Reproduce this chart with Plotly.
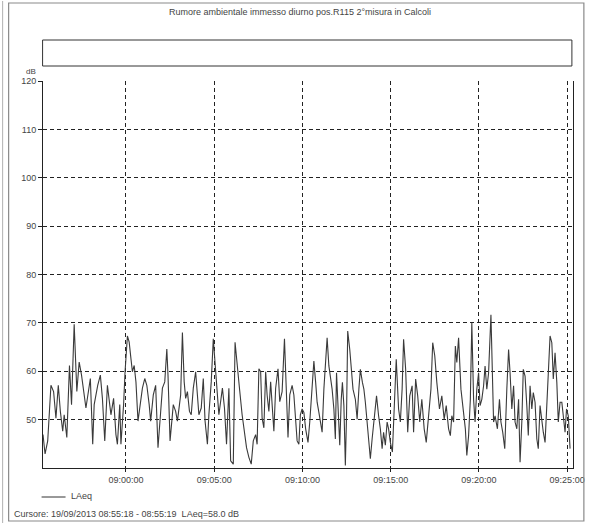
import plotly.graph_objects as go
import pandas as pd

# ---- data ----
start_time = "2013-09-19 08:55:18"
end_offset_s = 1802

# elapsed seconds from start, LAeq values (dB)
seconds = [
    0, 7, 16, 27, 36, 44, 52, 59, 67, 72, 81, 90, 97, 106, 115, 123, 131, 140, 146, 161,
    169, 174, 186, 195, 202, 210, 219, 231, 240, 248, 253, 261, 265, 274, 279, 287, 293, 299, 304, 310,
    316, 323, 330, 338, 346, 353, 361, 366, 375, 383, 391, 398, 406, 414, 421, 425, 432, 438, 443, 451,
    457, 464, 468, 474, 480, 485, 491, 498, 504, 511, 519, 525, 530, 538, 545, 551, 559, 564, 572, 579,
    587, 598, 610, 617, 624, 632, 638, 647, 653, 661, 668, 677, 685, 692, 700, 708, 715, 723, 728, 734,
    740, 745, 751, 757, 762, 768, 774, 779, 785, 791, 799, 805, 813, 821, 828, 833, 839, 847, 853, 858,
    864, 870, 875, 881, 887, 893, 901, 907, 915, 921, 927, 932, 938, 944, 949, 955, 961, 966, 972, 977,
    983, 989, 994, 998, 1002, 1009, 1014, 1018, 1023, 1028, 1032, 1036, 1043, 1048, 1054, 1062, 1068, 1074, 1079, 1086,
    1091, 1096, 1102, 1108, 1113, 1119, 1127, 1134, 1141, 1147, 1153, 1158, 1164, 1170, 1175, 1181, 1188, 1195, 1201, 1209,
    1215, 1221, 1226, 1233, 1240, 1247, 1255, 1260, 1267, 1274, 1281, 1288, 1296, 1303, 1311, 1319, 1325, 1332, 1339, 1348,
    1356, 1364, 1371, 1379, 1385, 1390, 1396, 1402, 1407, 1413, 1421, 1428, 1436, 1441, 1447, 1453, 1458, 1464, 1469, 1475,
    1481, 1486, 1492, 1498, 1503, 1509, 1515, 1523, 1527, 1532, 1537, 1545, 1552, 1557, 1563, 1570, 1577, 1583, 1588, 1594,
    1600, 1605, 1611, 1617, 1622, 1628, 1633, 1639, 1645, 1650, 1656, 1662, 1667, 1673, 1679, 1684, 1690, 1696, 1701, 1707,
    1713, 1718, 1724, 1730, 1735, 1741, 1747, 1752, 1758, 1764, 1769, 1775, 1780, 1786, 1792,
]
laeq = [
    46.9, 42.9, 45.6, 57.1, 55.8, 50.3, 57.1, 51.7, 47.6, 51.0, 46.3, 61.2, 53.1, 69.7, 55.8, 61.9, 59.2, 55.1, 52.4, 58.5,
    44.9, 53.1, 57.1, 59.2, 54.4, 45.6, 57.1, 51.0, 54.4, 46.9, 44.9, 53.1, 44.9, 53.1, 59.9, 67.3, 66.0, 62.6, 59.9, 61.2,
    57.8, 49.7, 53.1, 56.5, 58.5, 57.1, 53.1, 49.7, 55.1, 57.1, 44.2, 49.7, 56.5, 57.8, 64.6, 59.2, 45.6, 49.7, 53.1, 51.7,
    49.7, 53.1, 55.1, 68.0, 57.8, 54.4, 55.8, 51.7, 51.0, 56.5, 59.9, 55.1, 51.0, 52.4, 58.5, 49.7, 44.9, 51.0, 57.8, 66.7,
    59.2, 51.0, 56.5, 52.4, 44.9, 56.5, 41.5, 40.8, 66.0, 59.9, 56.5, 51.0, 46.9, 44.2, 42.2, 40.8, 45.6, 46.9, 44.9, 60.5,
    59.9, 50.3, 48.3, 59.9, 55.1, 51.7, 57.8, 53.1, 47.6, 56.5, 60.5, 53.7, 55.8, 66.7, 56.5, 46.3, 55.1, 57.1, 55.1, 49.7,
    45.6, 44.9, 51.0, 52.2, 51.5, 48.1, 45.3, 49.5, 56.3, 62.1, 57.7, 53.6, 51.5, 49.5, 47.4, 56.3, 61.8, 66.9, 61.1, 59.0,
    56.3, 52.2, 46.0, 59.7, 52.9, 44.7, 54.2, 57.7, 52.9, 40.5, 50.8, 68.3, 64.5, 60.4, 56.3, 54.2, 50.1, 56.3, 60.4, 57.7,
    56.3, 53.6, 49.5, 44.7, 41.9, 46.0, 50.8, 54.9, 50.8, 48.1, 44.0, 47.4, 44.7, 49.5, 48.1, 45.3, 43.3, 54.9, 62.5, 52.2,
    49.5, 56.3, 66.6, 60.4, 47.4, 54.9, 57.0, 47.4, 58.4, 54.9, 49.5, 54.2, 48.1, 45.3, 50.8, 56.3, 65.9, 63.2, 57.7, 52.2,
    54.9, 50.1, 52.9, 48.1, 46.7, 50.8, 49.5, 65.2, 61.8, 66.9, 56.3, 52.9, 48.1, 42.6, 46.7, 54.2, 70.0, 54.2, 49.5, 56.3,
    59.7, 52.9, 54.2, 57.0, 61.1, 56.3, 59.7, 71.7, 59.7, 49.5, 50.8, 48.1, 54.2, 49.5, 47.4, 44.0, 56.3, 64.5, 59.7, 52.2,
    57.0, 49.5, 48.1, 54.2, 41.2, 49.5, 60.4, 59.0, 52.9, 46.7, 57.0, 52.2, 55.6, 53.6, 46.0, 44.0, 52.9, 49.5, 47.4, 45.3,
    54.2, 60.4, 67.3, 65.9, 58.4, 63.8, 57.7, 49.5, 53.6, 53.6, 50.8, 47.4, 52.2, 50.8, 44.0,
]
x_tick_vals = ["2013-09-19 09:00:00", "2013-09-19 09:05:00", "2013-09-19 09:10:00",
               "2013-09-19 09:15:00", "2013-09-19 09:20:00", "2013-09-19 09:25:00"]
x_tick_text = ["09:00:00", "09:05:00", "09:10:00", "09:15:00", "09:20:00", "09:25:00"]
y_tick_vals = [50, 60, 70, 80, 90, 100, 110, 120]

title_text = "Rumore ambientale immesso diurno pos.R115 2°misura in Calcoli"
cursor_text = "Cursore: 19/09/2013 08:55:18 - 08:55:19  LAeq=58.0 dB"
series_name = "LAeq"

t0 = pd.Timestamp(start_time)
times = [t0 + pd.Timedelta(seconds=s) for s in seconds]
t_end = t0 + pd.Timedelta(seconds=end_offset_s)

FONT = "Liberation Sans, Arial, sans-serif"
# horizontal compensation for the observed render squeeze
SX = 589 / 581
W, H = 597, 525
L = round(42 * SX)
R = W - round(573 * SX)
T, B = 81, 57
pw, ph = W - L - R, H - T - B


def px(xp):
    return (xp * SX - L) / pw


def py(yp):
    return (H - B - yp) / ph


fig = go.Figure()
fig.add_trace(go.Scatter(
    x=times, y=laeq, mode="lines", name=series_name,
    line=dict(color="#3a3a3a", width=1.1),
    showlegend=False,
))

fig.update_layout(
    width=W, height=H,
    margin=dict(l=L, r=R, t=T, b=B),
    paper_bgcolor="white", plot_bgcolor="white",
    font=dict(family=FONT, size=9, color="#333333"),
    xaxis=dict(
        range=[t0, t_end], tickvals=x_tick_vals, ticktext=x_tick_text,
        showgrid=True, gridcolor="#222222", gridwidth=1, griddash="4px,3px",
        showline=True, linecolor="#222222", linewidth=1,
        ticks="outside", ticklen=3, tickcolor="#222222",
        tickfont=dict(size=9, color="#444444"), zeroline=False,
    ),
    yaxis=dict(
        range=[40, 120], tickvals=y_tick_vals,
        showgrid=True, gridcolor="#222222", gridwidth=1, griddash="4px,3px",
        showline=True, linecolor="#222222", linewidth=1, mirror=True,
        ticks="outside", ticklen=4, tickcolor="#222222",
        tickfont=dict(size=9, color="#444444"), zeroline=False,
    ),
)

shapes = [
    # outer frame
    dict(type="rect", xref="paper", yref="paper", x0=px(8), x1=px(584), y0=py(521), y1=py(3),
         line=dict(color="#8a8a8a", width=1.2)),
    dict(type="line", xref="paper", yref="paper", x0=px(2), x1=px(2), y0=py(523), y1=py(1),
         line=dict(color="#b0b0b0", width=1)),
    # empty legend box
    dict(type="rect", xref="paper", yref="paper", x0=px(42), x1=px(572), y0=py(66), y1=py(40),
         line=dict(color="#333333", width=1)),
    # legend line sample
    dict(type="line", xref="paper", yref="paper", x0=px(41), x1=px(65), y0=py(497), y1=py(497),
         line=dict(color="#333333", width=1)),
]
fig.update_layout(shapes=shapes)

annotations = [
    dict(text=title_text, xref="paper", yref="paper", x=px(300), y=py(12), showarrow=False,
         font=dict(size=9, color="#444444"), xanchor="center", yanchor="middle"),
    dict(text="dB", xref="paper", yref="paper", x=px(37), y=py(72), showarrow=False,
         font=dict(size=8, color="#444444"), xanchor="right", yanchor="middle"),
    dict(text=series_name, xref="paper", yref="paper", x=px(68), y=py(496), showarrow=False,
         font=dict(size=9, color="#444444"), xanchor="left", yanchor="middle"),
    dict(text=cursor_text, xref="paper", yref="paper", x=px(11), y=py(514), showarrow=False,
         font=dict(size=9, color="#444444"), xanchor="left", yanchor="middle"),
]
fig.update_layout(annotations=annotations)

fig.write_html(
    "out.html",
    config={"displayModeBar": False},
    post_script="document.body.style.margin='0px';document.documentElement.style.overflow='hidden';document.body.style.overflow='hidden';",
)
